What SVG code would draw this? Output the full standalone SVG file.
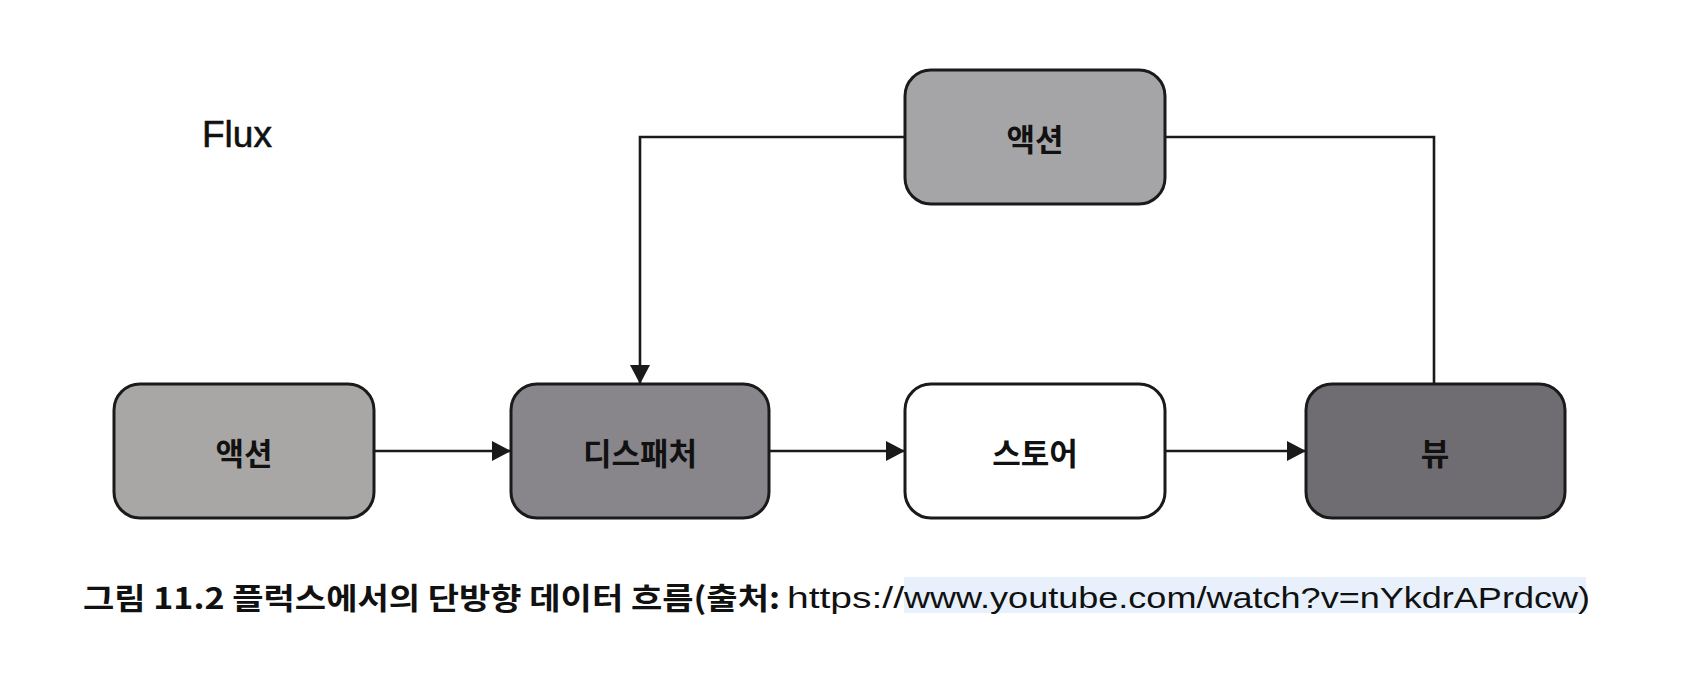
<svg xmlns="http://www.w3.org/2000/svg" width="1683" height="683" viewBox="0 0 1683 683">
  <style>
    .node { stroke: #1a1a1a; stroke-width: 3; }
    .label { font-family: "Noto Sans CJK KR", "Noto Sans", sans-serif; font-size: 31px; font-weight: bold; fill: #111; text-anchor: middle; dominant-baseline: central; }
    .conn { fill: none; stroke: #1a1a1a; stroke-width: 2.6; }
    .cap { font-family: "Noto Sans CJK KR", "Liberation Sans", sans-serif; font-size: 30px; fill: #111; }
    .url { font-family: "Liberation Sans", Arial, sans-serif; font-size: 30px; fill: #111; }
  </style>
  <defs>
    <marker id="arrow" viewBox="0 0 19 20" refX="19" refY="10" markerWidth="19" markerHeight="20" markerUnits="userSpaceOnUse" orient="auto">
      <path d="M0,0 L19,10 L0,20 Z" fill="#1a1a1a"/>
    </marker>
  </defs>
  <rect x="0" y="0" width="1683" height="683" fill="#ffffff"/>

  <text x="202" y="147" font-family="Liberation Sans, Arial, sans-serif" font-size="37" fill="#111" stroke="#111" stroke-width="0.6">Flux</text>

  <g id="connectors">
    <line class="conn" x1="374" y1="451" x2="511" y2="451" marker-end="url(#arrow)"/>
    <line class="conn" x1="769" y1="451" x2="905" y2="451" marker-end="url(#arrow)"/>
    <line class="conn" x1="1165" y1="451" x2="1306" y2="451" marker-end="url(#arrow)"/>
    <polyline class="conn" points="1434,384 1434,137 1165,137"/>
    <polyline class="conn" points="905,137 640,137 640,384" marker-end="url(#arrow)"/>
  </g>

  <g id="node-action-top">
    <rect class="node" x="905" y="70" width="260" height="134" rx="26" fill="#a5a4a7"/>
    <text class="label" x="1035" y="137">액션</text>
  </g>
  <g id="node-action">
    <rect class="node" x="114" y="384" width="260" height="134" rx="26" fill="#a8a7a5"/>
    <text class="label" x="244" y="451">액션</text>
  </g>
  <g id="node-dispatcher">
    <rect class="node" x="511" y="384" width="258" height="134" rx="26" fill="#88858b"/>
    <text class="label" x="640" y="451">디스패처</text>
  </g>
  <g id="node-store">
    <rect class="node" x="905" y="384" width="260" height="134" rx="26" fill="#ffffff"/>
    <text class="label" x="1035" y="451">스토어</text>
  </g>
  <g id="node-view">
    <rect class="node" x="1306" y="384" width="259" height="134" rx="26" fill="#706d72"/>
    <text class="label" x="1435" y="451">뷰</text>
  </g>

  <g id="caption">
    <rect x="904" y="577" width="682" height="36" fill="#e8f1fb"/>
    <text class="cap" x="83" y="609" font-weight="bold" textLength="697" lengthAdjust="spacingAndGlyphs">그림 11.2 플럭스에서의 단방향 데이터 흐름(출처:</text>
    <text class="url" x="787" y="608" textLength="117" lengthAdjust="spacingAndGlyphs">https://</text>
    <text class="url" x="904" y="608" textLength="686" lengthAdjust="spacingAndGlyphs">www.youtube.com/watch?v=nYkdrAPrdcw)</text>
  </g>
</svg>
